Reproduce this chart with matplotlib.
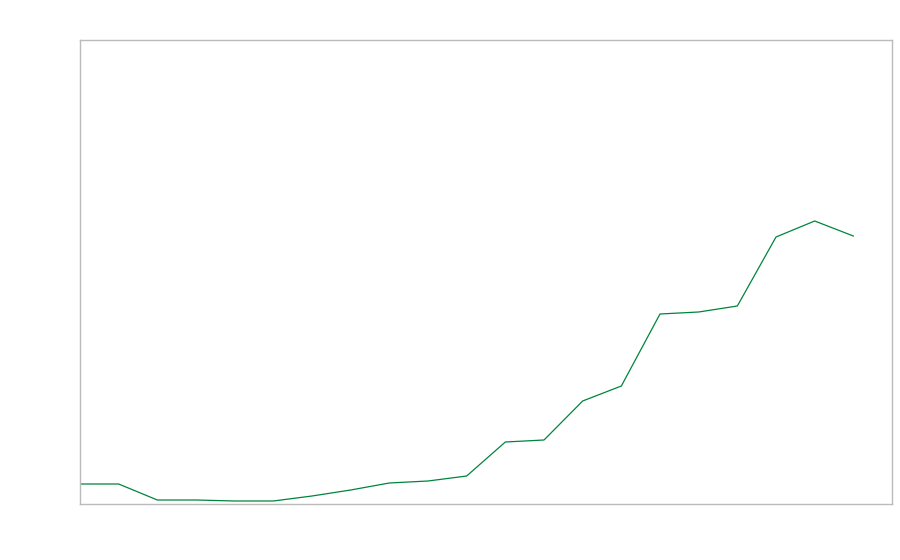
import matplotlib
matplotlib.use("Agg")
import matplotlib.pyplot as plt

# values (no labels shown, units arbitrary)
periods = list(range(21))
values = [20, 20, 4, 4, 3, 3, 8, 14, 21, 23, 28, 62, 64, 103, 118, 190, 192, 198, 267, 283, 268]

fig = plt.figure(figsize=(9, 5.6), dpi=100)
ax = fig.add_axes([80 / 900, 56 / 560, 812 / 900, 464 / 560])

ax.plot(periods, values, color="#00843d", linewidth=0.9)

ax.set_xlim(0, 21)
ax.set_ylim(0, 464)
ax.set_xticks([])
ax.set_yticks([])
for s in ax.spines.values():
    s.set_color("#bbbbbb")
    s.set_linewidth(1)

fig.savefig("out.png", dpi=100)
